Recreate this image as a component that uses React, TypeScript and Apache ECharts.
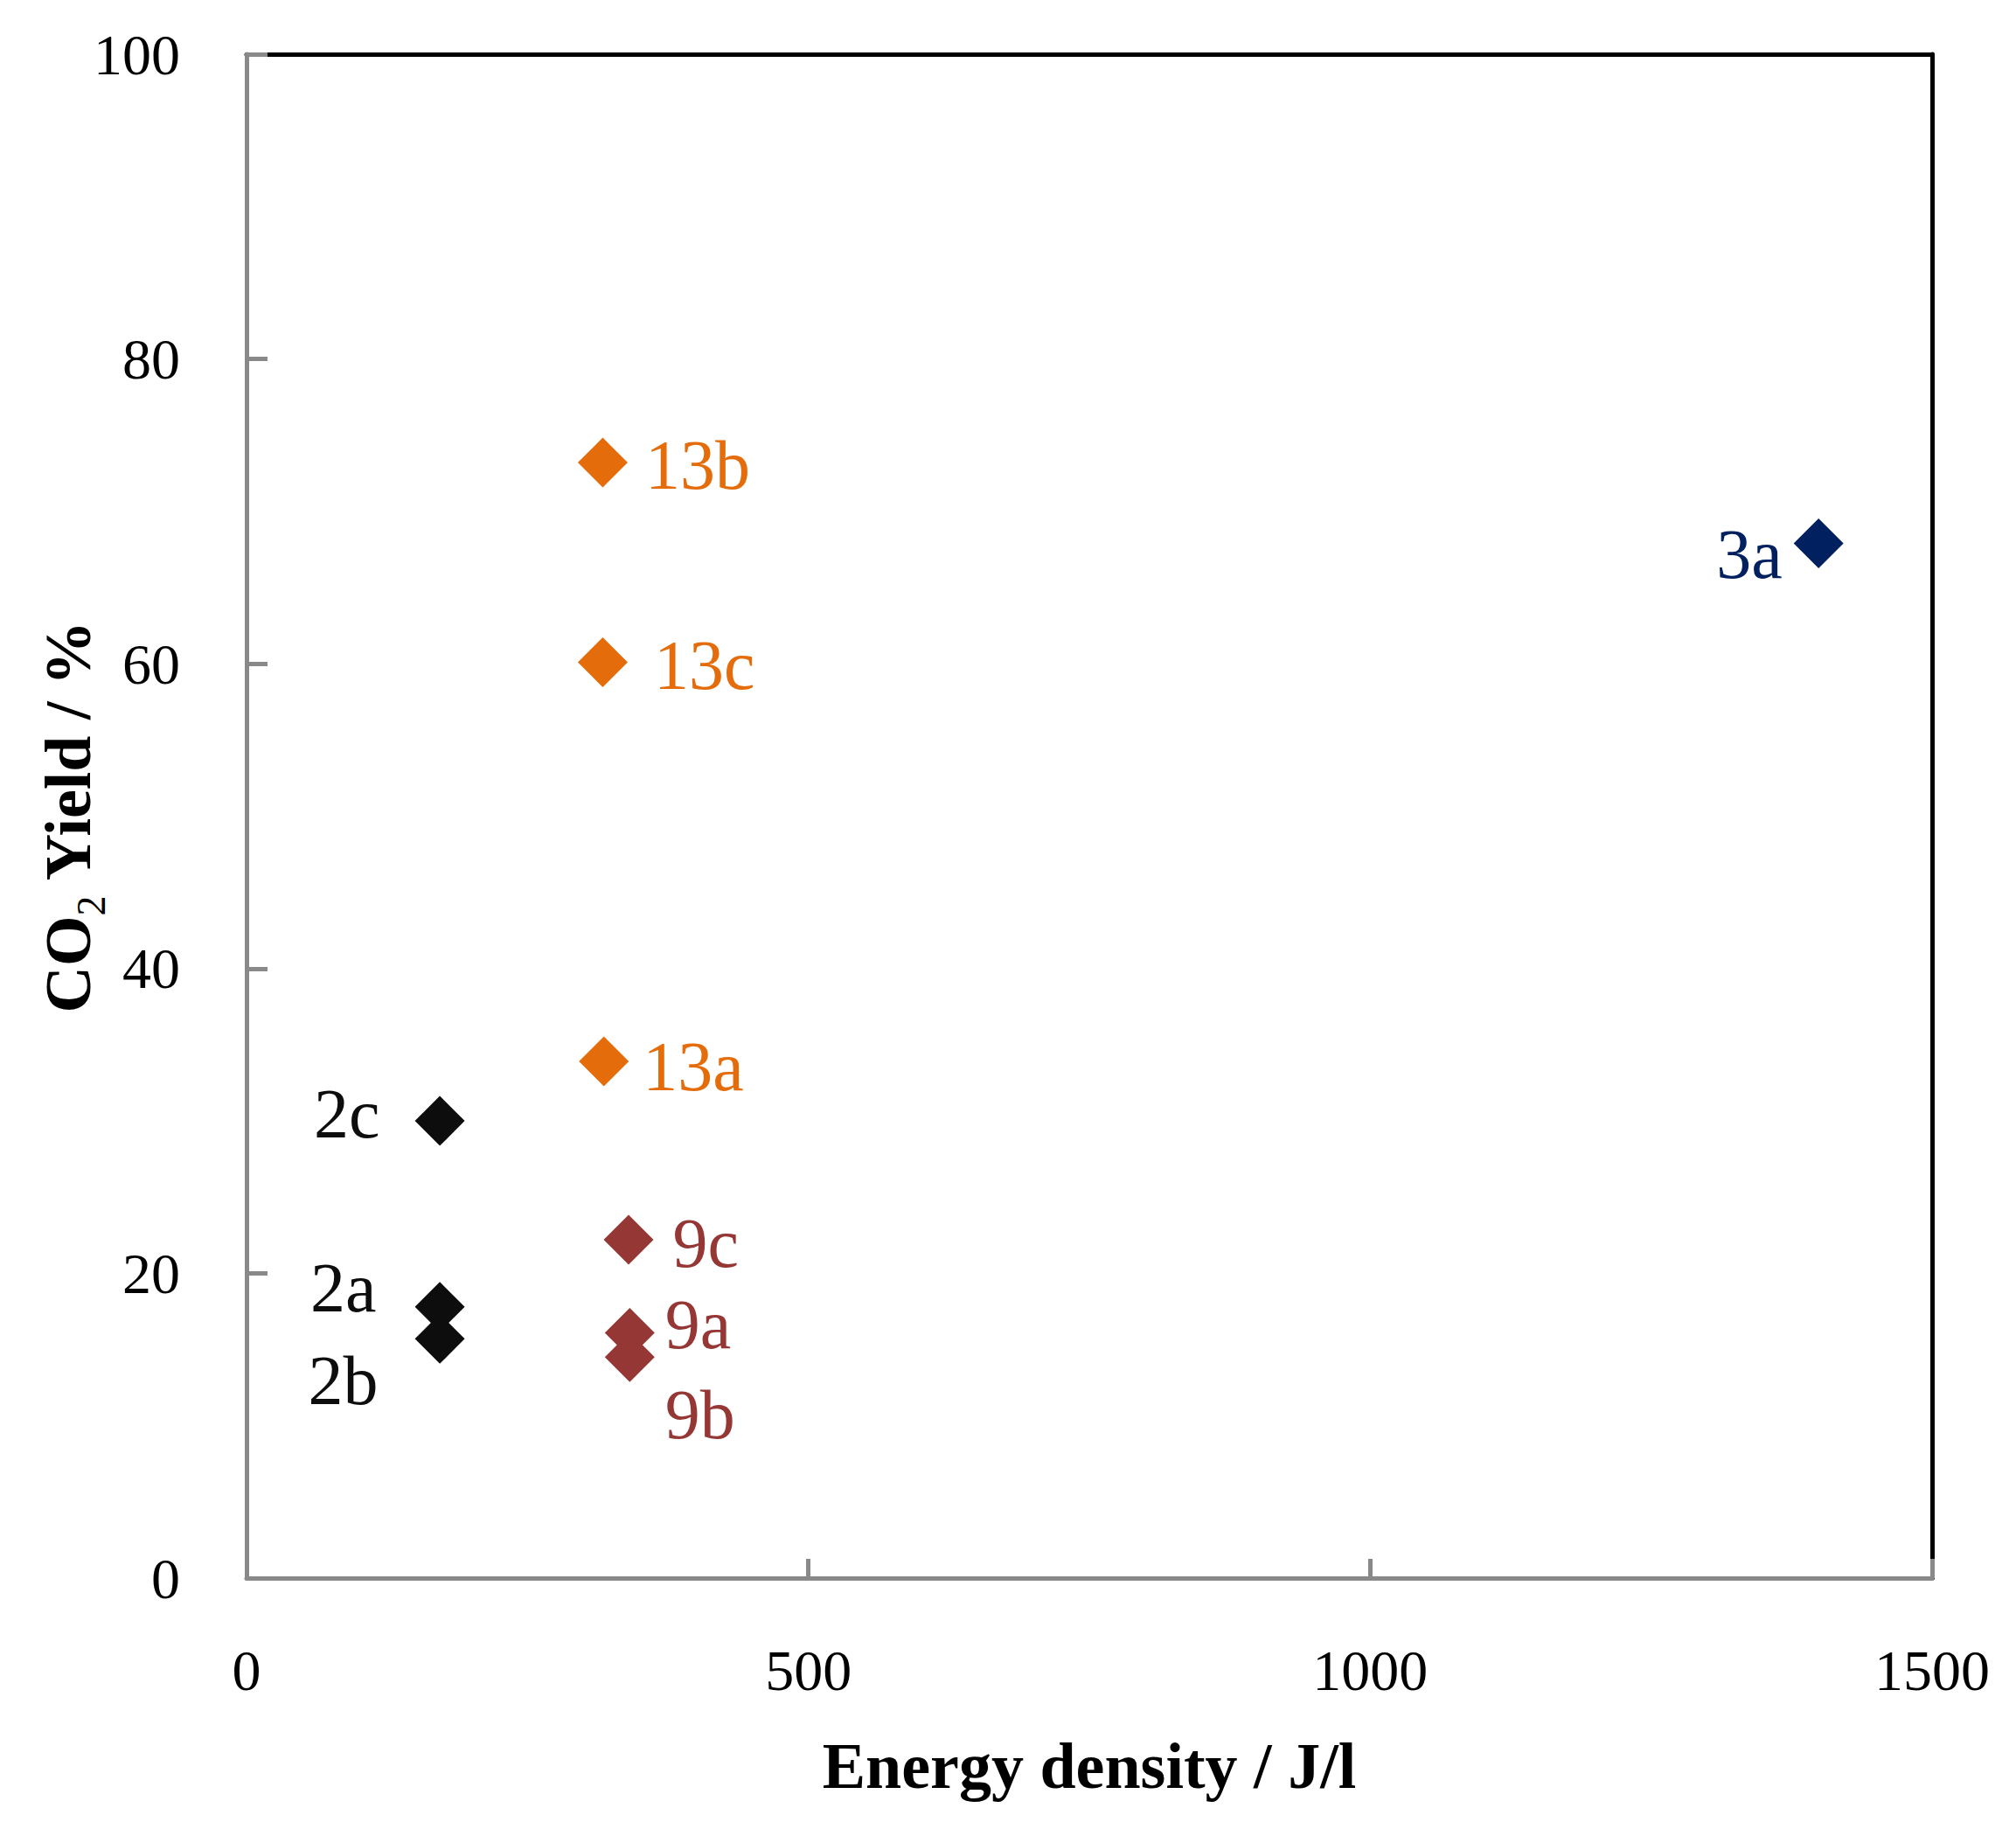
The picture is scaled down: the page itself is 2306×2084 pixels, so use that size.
import React, { useEffect, useRef } from "react";
import * as echarts from "echarts";

const FONT = '"Liberation Serif", "Times New Roman", serif';

// Tick values
const xTicks = [0, 500, 1000, 1500];
const yTicks = [0, 20, 40, 60, 80, 100];

// Group 2 (black)
const labels2 = ["2a", "2b", "2c"];
const energy2 = [172, 172, 172];
const yield2 = [17.8, 15.7, 30.0];

// Group 3 (navy)
const labels3 = ["3a"];
const energy3 = [1399];
const yield3 = [67.9];

// Group 9 (brown red)
const labels9 = ["9a", "9b", "9c"];
const energy9 = [341, 341, 340];
const yield9 = [16.1, 14.5, 22.2];

// Group 13 (orange)
const labels13 = ["13a", "13b", "13c"];
const energy13 = [318, 317, 317];
const yield13 = [33.9, 73.2, 60.1];

// label placement: [position, distance, dy]
const placement: Record<string, [string, number, number]> = {
  "2a": ["left", 44, -22],
  "2b": ["left", 42, 48],
  "2c": ["left", 40, -8],
  "3a": ["left", 13, 12],
  "9a": ["right", 12, -9],
  "9b": ["right", 12, 66],
  "9c": ["right", 22, 4],
  "13a": ["right", 16, 6],
  "13b": ["right", 20, 3],
  "13c": ["right", 30, 4],
};

function makeSeries(name: string, labels: string[], xs: number[], ys: number[], color: string) {
  return {
    name,
    type: "scatter",
    symbol: "diamond",
    symbolSize: 57,
    itemStyle: { color, opacity: 1 },
    z: 5,
    data: labels.map((lb, i) => {
      const p = placement[lb];
      return {
        name: lb,
        value: [xs[i], ys[i]],
        label: {
          show: true,
          formatter: "{b}",
          position: p[0],
          distance: p[1],
          offset: [0, p[2]],
          color,
          fontSize: 80,
          fontFamily: FONT,
        },
      };
    }),
  };
}

export default function App() {
  const ref = useRef<HTMLDivElement>(null);
  useEffect(() => {
    if (!ref.current) return;
    const chart = echarts.init(ref.current, undefined, { renderer: "svg" });
    const gray = "#898989";
    const xMin = xTicks[0];
    const xMax = xTicks[xTicks.length - 1];
    const xInt = xTicks[1] - xTicks[0];
    const yMin = yTicks[0];
    const yMax = yTicks[yTicks.length - 1];
    const yInt = yTicks[1] - yTicks[0];
    chart.setOption({
      animation: false,
      backgroundColor: "#ffffff",
      grid: { left: 274, top: 54, right: 88, bottom: 271, containLabel: false },
      xAxis: [
        {
          type: "value",
          position: "bottom",
          min: xMin,
          max: xMax,
          interval: xInt,
          z: 4,
          splitLine: { show: false },
          axisLine: { show: true, lineStyle: { color: gray, width: 5 } },
          axisTick: { show: true, inside: true, length: 22, lineStyle: { color: gray, width: 5 } },
          axisLabel: { color: "#000", fontSize: 66, fontFamily: FONT, margin: 72, formatter: (v: number) => String(v) },
          name: "Energy density / J/l",
          nameLocation: "middle",
          nameGap: 178,
          nameMoveOverlap: false,
          nameTextStyle: { color: "#000", fontSize: 74, fontWeight: "bold", fontFamily: FONT },
        },
        {
          type: "value",
          position: "top",
          min: xMin,
          max: xMax,
          interval: xInt,
          z: 1,
          splitLine: { show: false },
          axisLine: { show: true, onZero: false, lineStyle: { color: "#000", width: 5 } },
          axisTick: { show: false },
          axisLabel: { show: false },
        },
      ],
      yAxis: [
        {
          type: "value",
          position: "left",
          min: yMin,
          max: yMax,
          interval: yInt,
          z: 4,
          splitLine: { show: false },
          axisLine: { show: true, lineStyle: { color: gray, width: 5 } },
          axisTick: { show: true, inside: true, length: 24, lineStyle: { color: gray, width: 5 } },
          axisLabel: { color: "#000", fontSize: 66, fontFamily: FONT, margin: 76, formatter: (v: number) => String(v) },
          name: "{b|CO}{s|2}{b| Yield / %}",
          nameLocation: "middle",
          nameRotate: 90,
          nameGap: 155,
          nameMoveOverlap: false,
          nameTextStyle: {
            color: "#000",
            fontFamily: FONT,
            rich: {
              b: { fontSize: 74, fontWeight: "bold", fontFamily: FONT, color: "#000", verticalAlign: "bottom", padding: [0, 0, 12, 0] },
              s: { fontSize: 46, fontWeight: "normal", fontFamily: FONT, color: "#000", verticalAlign: "bottom" },
            },
          },
        },
        {
          type: "value",
          position: "right",
          min: yMin,
          max: yMax,
          interval: yInt,
          z: 1,
          splitLine: { show: false },
          axisLine: { show: true, onZero: false, lineStyle: { color: "#000", width: 5 } },
          axisTick: { show: false },
          axisLabel: { show: false },
        },
      ],
      series: [
        makeSeries("G2", labels2, energy2, yield2, "#0D0D0D"),
        makeSeries("G13", labels13, energy13, yield13, "#E46C0A"),
        makeSeries("G9", labels9, energy9, yield9, "#953735"),
        makeSeries("G3", labels3, energy3, yield3, "#002060"),
      ],
    });
    return () => chart.dispose();
  }, []);
  return <div ref={ref} style={{ width: 2290, height: 2068 }} />;
}
